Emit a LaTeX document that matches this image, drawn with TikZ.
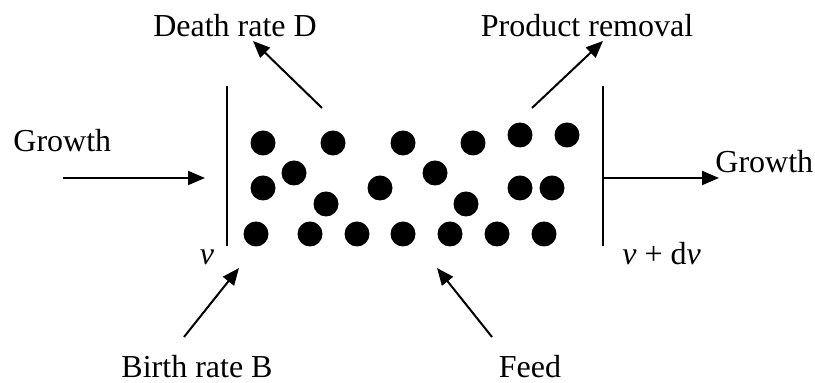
\documentclass[tikz,border=0pt]{standalone}
\usepackage{fontspec}
\setmainfont{Liberation Serif}
\usetikzlibrary{arrows.meta}

\begin{document}
\begin{tikzpicture}[x=0.5pt,y=-0.5pt,
  every node/.style={font=\fontsize{16}{19}\selectfont,inner sep=0pt},
  lbl/.style={anchor=base},
  particle/.style={circle,fill=black,minimum size=12.5pt},
  wall/.style={line width=1pt},
  arr/.style={-{Triangle[length=8.5pt,width=7pt]},line width=1pt}
]
\useasboundingbox (0,0) rectangle (815,383);

% labels
\node[lbl,anchor=base west] (growthin) at (13,152) {Growth};
\node[lbl,anchor=base west] (growthout) at (715,173) {Growth};
\node[lbl] (death) at (235,37) {Death rate D};
\node[lbl] (product) at (587,37) {Product removal};
\node[lbl] (birth) at (197,378) {Birth rate B};
\node[lbl] (feed) at (530,378) {Feed};
\node[lbl] (vleft) at (207,265) {\textit{v}};
\node[lbl,anchor=base west] (vright) at (622,265) {\textit{v} + d\textit{v}};

% size interval walls
\coordinate (ltop) at (227,86);
\coordinate (lbot) at (227,246);
\coordinate (rtop) at (603,86);
\coordinate (rbot) at (603,246);
\draw[wall] (ltop) -- (lbot);
\draw[wall] (rtop) -- (rbot);

% particles
\foreach \px/\py [count=\i] in {263/143,333/143,403/143,473/143,520/135,567/135,
  263/188,294/173,326/204,380/188,435/173,466/204,520/188,552/188,
  256/234,310/234,357/234,403/234,450/234,497/234,544/234}
  \node[particle] (p\i) at (\px,\py) {};

% fluxes
\coordinate (gin0) at (63,178);
\coordinate (gin1) at (205,178);
\coordinate (gout0) at (603,178);
\coordinate (gout1) at (719,178);
\coordinate (d0) at (322,108);
\coordinate (d1) at (253,41);
\coordinate (r0) at (532,108);
\coordinate (r1) at (603,41);
\coordinate (b0) at (184,337);
\coordinate (b1) at (239,268);
\coordinate (f0) at (492,337);
\coordinate (f1) at (437,268);
\draw[arr] (gin0) -- (gin1);
\draw[arr] (gout0) -- (gout1);
\draw[arr] (d0) -- (d1);
\draw[arr] (r0) -- (r1);
\draw[arr] (b0) -- (b1);
\draw[arr] (f0) -- (f1);
\end{tikzpicture}
\end{document}
